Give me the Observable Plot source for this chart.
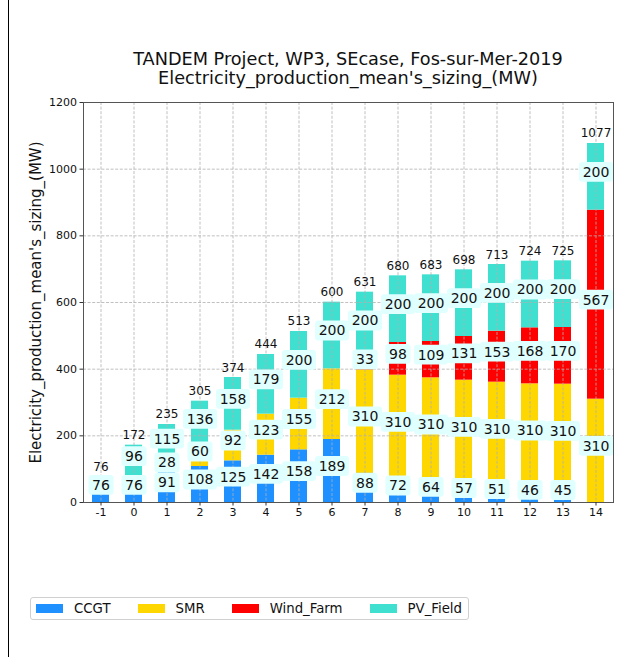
<!DOCTYPE html>
<html>
<head>
<meta charset="utf-8">
<script src="https://cdn.jsdelivr.net/npm/d3@7"></script>
<script src="https://cdn.jsdelivr.net/npm/@observablehq/plot@0.6"></script>
<style>
  html, body { margin: 0; padding: 0; background: #fff; }
  #page { position: relative; width: 629px; height: 657px; overflow: hidden; font-family: "DejaVu Sans", sans-serif; }
  #edge { position: absolute; left: 8px; top: 0; width: 1px; height: 657px; background: #000; }
  #title { position: absolute; left: 48px; width: 600px; top: 49.5px; text-align: center; font-size: 17.7px; line-height: 19.5px; color: #111; }
  #chart { position: absolute; left: 0; top: 0; }
  #legend { position: absolute; left: 30px; top: 597px; height: 23px; box-sizing: border-box; border: 1px solid #d0d0d0; border-radius: 3px; display: flex; align-items: center; padding: 0 6px 0 5px; font-size: 13.3px; color: #111; background: #fff; }
  .item { display: flex; align-items: center; margin-right: 27px; }
  .item:last-child { margin-right: 0; }
  .sw { width: 27px; height: 9.5px; margin-right: 11px; }
</style>
</head>
<body>
<div id="page">
  <div id="edge"></div>
  <div id="chart"></div>
  <div id="title"></div>
  <div id="legend"></div>
</div>
<script>
// ---- data ----
const titleLines = ["TANDEM Project, WP3, SEcase, Fos-sur-Mer-2019", "Electricity_production_mean's_sizing_(MW)"];
const yLabel = "Electricity_production_mean's_sizing_(MW)";
const categories = [-1, 0, 1, 2, 3, 4, 5, 6, 7, 8, 9, 10, 11, 12, 13, 14];
const seriesNames = ["CCGT", "SMR", "Wind_Farm", "PV_Field"];
const seriesColors = ["#1e90ff", "#ffd700", "#ff0000", "#40e0d0"];
const ccgt = [76, 76, 91, 108, 125, 142, 158, 189, 88, 72, 64, 57, 51, 46, 45, 0];
const smr  = [0, 0, 28, 60, 92, 123, 155, 212, 310, 310, 310, 310, 310, 310, 310, 310];
const wind = [0, 0, 0, 0, 0, 0, 0, 0, 33, 98, 109, 131, 153, 168, 170, 567];
const pv   = [0, 96, 115, 136, 158, 179, 200, 200, 200, 200, 200, 200, 200, 200, 200, 200];
const totals = [76, 172, 235, 305, 374, 444, 513, 600, 631, 680, 683, 698, 713, 724, 725, 1077];
const yTicks = [0, 200, 400, 600, 800, 1000, 1200];

// ---- tables built from the arrays ----
const seriesValues = [ccgt, smr, wind, pv];
const rows = [];
seriesNames.forEach((s, si) => categories.forEach((c, ci) => rows.push({cat: c, series: s, value: seriesValues[si][ci]})));
const labelRows = rows.filter(d => d.value > 0);
const totalRows = categories.map((c, i) => ({cat: c, total: totals[i]}));

// title
const titleEl = document.getElementById("title");
titleLines.forEach(t => { const d = document.createElement("div"); d.textContent = t; titleEl.appendChild(d); });

// legend
const legendEl = document.getElementById("legend");
seriesNames.forEach((s, i) => {
  const it = document.createElement("div"); it.className = "item";
  const sw = document.createElement("div"); sw.className = "sw"; sw.style.background = seriesColors[i];
  const tx = document.createElement("span"); tx.textContent = s;
  it.appendChild(sw); it.appendChild(tx); legendEl.appendChild(it);
});

const gridStyle = {stroke: "#b0b0b0", strokeOpacity: 1, strokeWidth: 0.8, strokeDasharray: "3,1.6"};

const plot = Plot.plot({
  width: 629,
  height: 530,
  marginTop: 102,
  marginBottom: 28,
  marginLeft: 83,
  marginRight: 16,
  style: {fontFamily: "DejaVu Sans", fontSize: "11px", color: "#111", background: "transparent"},
  x: {type: "band", domain: categories, paddingInner: 0.5, paddingOuter: 0.27, label: null},
  y: {domain: [0, 1200], label: null},
  color: {domain: seriesNames, range: seriesColors},
  marks: [
    Plot.barY(rows, {x: "cat", y: "value", fill: "series"}),
    Plot.gridY(yTicks, gridStyle),
    Plot.gridX(categories, gridStyle),
    Plot.frame({stroke: "#555", strokeWidth: 1}),
    Plot.axisY(yTicks, {tickSize: 3.5, tickPadding: 3, fontSize: 11, label: null, stroke: "#333", tickFormat: d => String(d)}),
    Plot.axisX(categories, {tickSize: 3.5, tickPadding: 2.5, fontSize: 11, label: null, tickFormat: d => String(d), stroke: "#333"}),
    Plot.text(labelRows, Plot.stackY({x: "cat", y: "value", z: "series", text: d => String(d.value), fontSize: 14, dy: -4.5, fill: "#111"})),
    Plot.text(totalRows, {x: "cat", y: "total", text: d => String(d.total), fontSize: 12, dy: -10, fill: "#111"}),
    Plot.text([yLabel], {frameAnchor: "left", textAnchor: "middle", rotate: -90, dx: -47, fontSize: 15, fill: "#111"})
  ]
});
document.getElementById("chart").appendChild(plot);

// label background boxes, sized from each rendered label
const textGroups = plot.querySelectorAll('g[aria-label="text"]');
const segGroup = textGroups[0];
if (segGroup) {
  const texts = Array.from(segGroup.querySelectorAll("text"));
  const padX = 3.6, padY = 2.4;
  const rects = texts.map(t => {
    const b = t.getBBox();
    const r = document.createElementNS("http://www.w3.org/2000/svg", "rect");
    r.setAttribute("x", b.x - padX);
    r.setAttribute("y", b.y - padY + 0.5);
    r.setAttribute("width", b.width + 2 * padX);
    r.setAttribute("height", b.height + 2 * padY - 1);
    r.setAttribute("rx", 3);
    r.setAttribute("fill", "#e0ffff");
    r.setAttribute("stroke", "none");
    const tr = t.getAttribute("transform");
    if (tr) r.setAttribute("transform", tr);
    return r;
  });
  rects.forEach(r => segGroup.insertBefore(r, segGroup.firstChild));
}
</script>
</body>
</html>
